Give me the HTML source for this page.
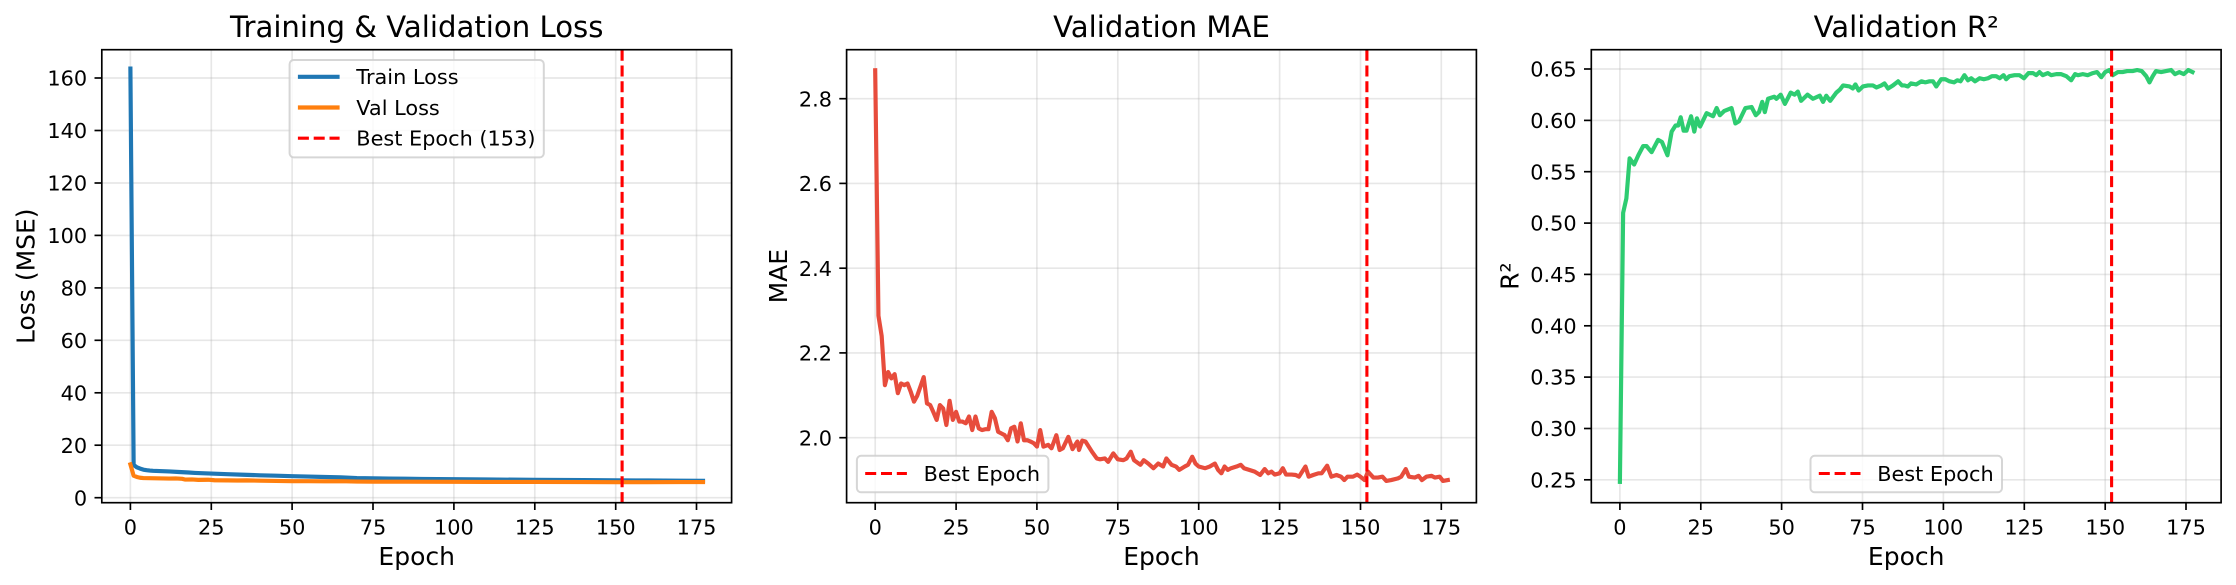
<!DOCTYPE html>
<html>
<head>
<meta charset="utf-8">
<style>
html,body{margin:0;padding:0;background:#fff;}
svg{display:block;}
text{font-family:"DejaVu Sans","Liberation Sans",sans-serif;fill:#000;}
</style>
</head>
<body>
<svg width="2236" height="585" viewBox="0 0 2236 585" xmlns="http://www.w3.org/2000/svg">
<rect x="0" y="0" width="2236" height="585" fill="#fff"/>

<!-- ================= PANEL 1 ================= -->
<g>
  <!-- grid -->
  <g stroke="#b0b0b0" stroke-opacity="0.3" stroke-width="1.67">
    <line x1="130.4" y1="49.7" x2="130.4" y2="502.7"/>
    <line x1="211.3" y1="49.7" x2="211.3" y2="502.7"/>
    <line x1="292.1" y1="49.7" x2="292.1" y2="502.7"/>
    <line x1="373.0" y1="49.7" x2="373.0" y2="502.7"/>
    <line x1="453.9" y1="49.7" x2="453.9" y2="502.7"/>
    <line x1="534.8" y1="49.7" x2="534.8" y2="502.7"/>
    <line x1="615.7" y1="49.7" x2="615.7" y2="502.7"/>
    <line x1="696.5" y1="49.7" x2="696.5" y2="502.7"/>
    <line x1="101.8" y1="497.7" x2="731.6" y2="497.7"/>
    <line x1="101.8" y1="445.2" x2="731.6" y2="445.2"/>
    <line x1="101.8" y1="392.8" x2="731.6" y2="392.8"/>
    <line x1="101.8" y1="340.3" x2="731.6" y2="340.3"/>
    <line x1="101.8" y1="287.9" x2="731.6" y2="287.9"/>
    <line x1="101.8" y1="235.4" x2="731.6" y2="235.4"/>
    <line x1="101.8" y1="183.0" x2="731.6" y2="183.0"/>
    <line x1="101.8" y1="130.5" x2="731.6" y2="130.5"/>
    <line x1="101.8" y1="78.0" x2="731.6" y2="78.0"/>
  </g>
  <!-- data -->
  <polyline transform="translate(130.4,497.7) scale(3.235,-2.623)" vector-effect="non-scaling-stroke" fill="none" stroke="#1f77b4" stroke-width="4.17" stroke-linejoin="round" stroke-linecap="square"
    points="0,163.6 1,12.5 2,11.6 3,11.1 4,10.7 5,10.5 6,10.35 7,10.25 8,10.2 10,10.1 12,10.0 15,9.8 18,9.6 20,9.45 22,9.35 25,9.2 28,9.05 30,8.95 35,8.75 40,8.55 45,8.4 50,8.2 55,8.05 60,7.9 65,7.75 70,7.5 75,7.4 80,7.3 85,7.22 90,7.15 100,7.05 110,6.95 125,6.8 140,6.7 150,6.6 160,6.55 170,6.5 177,6.45"/>
  <polyline transform="translate(130.4,497.7) scale(3.235,-2.623)" vector-effect="non-scaling-stroke" fill="none" stroke="#ff7f0e" stroke-width="4.17" stroke-linejoin="round" stroke-linecap="square"
    points="0,12.7 1,8.4 2,7.9 3,7.6 4,7.5 6,7.45 8,7.4 10,7.35 12,7.3 14,7.35 16,7.2 17,6.9 19,6.95 21,6.8 24,6.85 26,6.65 30,6.6 33,6.55 36,6.6 40,6.5 45,6.4 50,6.3 55,6.3 60,6.25 65,6.3 70,6.15 75,6.1 85,6.1 100,6.05 110,6.0 125,6.0 140,5.95 150,5.9 160,5.9 170,5.95 177,5.95"/>
  <line x1="622.1" y1="49.7" x2="622.1" y2="502.7" stroke="#ff0000" stroke-width="3.1" stroke-dasharray="11 4.8"/>
  <!-- spines -->
  <rect x="101.8" y="49.7" width="629.8" height="453" fill="none" stroke="#000" stroke-width="1.67"/>
  <!-- ticks -->
  <g stroke="#000" stroke-width="1.67">
    <line x1="130.4" y1="502.7" x2="130.4" y2="510"/>
    <line x1="211.3" y1="502.7" x2="211.3" y2="510"/>
    <line x1="292.1" y1="502.7" x2="292.1" y2="510"/>
    <line x1="373.0" y1="502.7" x2="373.0" y2="510"/>
    <line x1="453.9" y1="502.7" x2="453.9" y2="510"/>
    <line x1="534.8" y1="502.7" x2="534.8" y2="510"/>
    <line x1="615.7" y1="502.7" x2="615.7" y2="510"/>
    <line x1="696.5" y1="502.7" x2="696.5" y2="510"/>
    <line x1="94.5" y1="497.7" x2="101.8" y2="497.7"/>
    <line x1="94.5" y1="445.2" x2="101.8" y2="445.2"/>
    <line x1="94.5" y1="392.8" x2="101.8" y2="392.8"/>
    <line x1="94.5" y1="340.3" x2="101.8" y2="340.3"/>
    <line x1="94.5" y1="287.9" x2="101.8" y2="287.9"/>
    <line x1="94.5" y1="235.4" x2="101.8" y2="235.4"/>
    <line x1="94.5" y1="183.0" x2="101.8" y2="183.0"/>
    <line x1="94.5" y1="130.5" x2="101.8" y2="130.5"/>
    <line x1="94.5" y1="78.0" x2="101.8" y2="78.0"/>
  </g>
  <g font-size="20.83" text-anchor="middle">
    <text x="130.4" y="534.7">0</text>
    <text x="211.3" y="534.7">25</text>
    <text x="292.1" y="534.7">50</text>
    <text x="373.0" y="534.7">75</text>
    <text x="453.9" y="534.7">100</text>
    <text x="534.8" y="534.7">125</text>
    <text x="615.7" y="534.7">150</text>
    <text x="696.5" y="534.7">175</text>
  </g>
  <g font-size="20.83" text-anchor="end">
    <text x="87.2" y="505.3">0</text>
    <text x="87.2" y="452.8">20</text>
    <text x="87.2" y="400.4">40</text>
    <text x="87.2" y="347.9">60</text>
    <text x="87.2" y="295.5">80</text>
    <text x="87.2" y="243.0">100</text>
    <text x="87.2" y="190.6">120</text>
    <text x="87.2" y="138.1">140</text>
    <text x="87.2" y="85.6">160</text>
  </g>
  <text x="416.7" y="565" font-size="25" text-anchor="middle">Epoch</text>
  <text transform="translate(34.5,276.2) rotate(-90)" font-size="25" text-anchor="middle">Loss (MSE)</text>
  <text x="416.7" y="37.2" font-size="29.17" text-anchor="middle">Training &amp; Validation Loss</text>
  <!-- legend -->
  <rect x="289.6" y="60" width="254.2" height="97.4" rx="4.2" ry="4.2" fill="#fff" fill-opacity="0.8" stroke="#cccccc" stroke-opacity="0.8" stroke-width="2"/>
  <line x1="297.9" y1="76.8" x2="339.6" y2="76.8" stroke="#1f77b4" stroke-width="4.17"/>
  <line x1="297.9" y1="107.5" x2="339.6" y2="107.5" stroke="#ff7f0e" stroke-width="4.17"/>
  <line x1="297.9" y1="138.2" x2="339.6" y2="138.2" stroke="#ff0000" stroke-width="3.1" stroke-dasharray="11 4.8"/>
  <g font-size="20.83">
    <text x="356.3" y="84.2">Train Loss</text>
    <text x="356.3" y="114.9">Val Loss</text>
    <text x="356.3" y="145.6">Best Epoch (153)</text>
  </g>
</g>

<!-- ================= PANEL 2 ================= -->
<g transform="translate(744.8,0)">
  <g stroke="#b0b0b0" stroke-opacity="0.3" stroke-width="1.67">
    <line x1="130.4" y1="49.7" x2="130.4" y2="502.7"/>
    <line x1="211.3" y1="49.7" x2="211.3" y2="502.7"/>
    <line x1="292.1" y1="49.7" x2="292.1" y2="502.7"/>
    <line x1="373.0" y1="49.7" x2="373.0" y2="502.7"/>
    <line x1="453.9" y1="49.7" x2="453.9" y2="502.7"/>
    <line x1="534.8" y1="49.7" x2="534.8" y2="502.7"/>
    <line x1="615.7" y1="49.7" x2="615.7" y2="502.7"/>
    <line x1="696.5" y1="49.7" x2="696.5" y2="502.7"/>
    <line x1="101.8" y1="437.7" x2="731.6" y2="437.7"/>
    <line x1="101.8" y1="352.9" x2="731.6" y2="352.9"/>
    <line x1="101.8" y1="268.2" x2="731.6" y2="268.2"/>
    <line x1="101.8" y1="183.4" x2="731.6" y2="183.4"/>
    <line x1="101.8" y1="98.7" x2="731.6" y2="98.7"/>
  </g>
  <polyline transform="translate(130.4,1285.3) scale(3.235,-423.8)" vector-effect="non-scaling-stroke" fill="none" stroke="#e74c3c" stroke-width="4.17" stroke-linejoin="round" stroke-linecap="square"
    points="0,2.867 1,2.288 2,2.240 3,2.124 4,2.155 5,2.140 6,2.150 7,2.105 8,2.128 9,2.124 10,2.128 11,2.108 12,2.085 13,2.099 14,2.121 15,2.143 16,2.081 17,2.077 18,2.060 19,2.042 20,2.077 21,2.069 22,2.030 23,2.087 24,2.042 25,2.061 26,2.038 27,2.038 28,2.034 29,2.050 30,2.018 31,2.050 32,2.022 33,2.018 34,2.020 35,2.020 36,2.061 37,2.046 38,2.014 39,2.010 40,2.006 41,1.994 42,2.022 43,2.026 44,1.991 45,2.034 46,1.994 47,1.994 48,1.991 49,1.987 50,1.979 51,2.018 52,1.979 53.5,1.983 54.5,1.975 56,2.006 57,1.971 58,1.975 59.7,2.002 61,1.973 62.5,1.991 63,1.971 64,1.993 65,1.991 67,1.967 68.5,1.951 69.5,1.949 71,1.951 72,1.943 73.6,1.963 75,1.949 76.7,1.947 77.7,1.951 79,1.967 80,1.947 82,1.936 83,1.947 84.4,1.939 86,1.928 87.5,1.939 89,1.932 90,1.951 91.6,1.936 93,1.932 94,1.924 95.7,1.932 96.7,1.936 98,1.955 99,1.939 100,1.932 102,1.928 103.4,1.932 105,1.939 106,1.924 107,1.916 108,1.932 109,1.924 110,1.928 111.7,1.932 113,1.936 114,1.928 115.6,1.924 117.3,1.920 119,1.912 120.4,1.926 121.5,1.916 122.5,1.920 123.5,1.913 125,1.916 126,1.928 127,1.913 128.7,1.913 130,1.912 131,1.908 133,1.932 134,1.908 135.4,1.912 137,1.916 138,1.916 139.7,1.934 141,1.908 142.6,1.912 144,1.908 145,1.900 146,1.908 147.7,1.908 149,1.913 150,1.908 151.3,1.900 152.3,1.920 154,1.906 155.4,1.906 156.8,1.908 158,1.898 159.5,1.900 161.6,1.904 162.6,1.908 164,1.926 165,1.908 166.8,1.906 168,1.910 169,1.900 170.4,1.908 172,1.910 173,1.906 174.5,1.908 175.5,1.898 177,1.900"/>
  <line x1="622.1" y1="49.7" x2="622.1" y2="502.7" stroke="#ff0000" stroke-width="3.1" stroke-dasharray="11 4.8"/>
  <rect x="101.8" y="49.7" width="629.8" height="453" fill="none" stroke="#000" stroke-width="1.67"/>
  <g stroke="#000" stroke-width="1.67">
    <line x1="130.4" y1="502.7" x2="130.4" y2="510"/>
    <line x1="211.3" y1="502.7" x2="211.3" y2="510"/>
    <line x1="292.1" y1="502.7" x2="292.1" y2="510"/>
    <line x1="373.0" y1="502.7" x2="373.0" y2="510"/>
    <line x1="453.9" y1="502.7" x2="453.9" y2="510"/>
    <line x1="534.8" y1="502.7" x2="534.8" y2="510"/>
    <line x1="615.7" y1="502.7" x2="615.7" y2="510"/>
    <line x1="696.5" y1="502.7" x2="696.5" y2="510"/>
    <line x1="94.5" y1="437.7" x2="101.8" y2="437.7"/>
    <line x1="94.5" y1="352.9" x2="101.8" y2="352.9"/>
    <line x1="94.5" y1="268.2" x2="101.8" y2="268.2"/>
    <line x1="94.5" y1="183.4" x2="101.8" y2="183.4"/>
    <line x1="94.5" y1="98.7" x2="101.8" y2="98.7"/>
  </g>
  <g font-size="20.83" text-anchor="middle">
    <text x="130.4" y="534.7">0</text>
    <text x="211.3" y="534.7">25</text>
    <text x="292.1" y="534.7">50</text>
    <text x="373.0" y="534.7">75</text>
    <text x="453.9" y="534.7">100</text>
    <text x="534.8" y="534.7">125</text>
    <text x="615.7" y="534.7">150</text>
    <text x="696.5" y="534.7">175</text>
  </g>
  <g font-size="20.83" text-anchor="end">
    <text x="87.2" y="445.3">2.0</text>
    <text x="87.2" y="360.5">2.2</text>
    <text x="87.2" y="275.8">2.4</text>
    <text x="87.2" y="191.0">2.6</text>
    <text x="87.2" y="106.3">2.8</text>
  </g>
  <text x="416.7" y="565" font-size="25" text-anchor="middle">Epoch</text>
  <text transform="translate(42.2,276.2) rotate(-90)" font-size="25" text-anchor="middle">MAE</text>
  <text x="416.7" y="37.2" font-size="29.17" text-anchor="middle">Validation MAE</text>
  <rect x="112.1" y="455.8" width="191.5" height="36.5" rx="4.2" ry="4.2" fill="#fff" fill-opacity="0.8" stroke="#cccccc" stroke-opacity="0.8" stroke-width="2"/>
  <line x1="120.4" y1="473.5" x2="162.1" y2="473.5" stroke="#ff0000" stroke-width="3.1" stroke-dasharray="11 4.8"/>
  <text x="178.8" y="481" font-size="20.83">Best Epoch</text>
</g>

<!-- ================= PANEL 3 ================= -->
<g transform="translate(1489.5,0)">
  <g stroke="#b0b0b0" stroke-opacity="0.3" stroke-width="1.67">
    <line x1="130.4" y1="49.7" x2="130.4" y2="502.7"/>
    <line x1="211.3" y1="49.7" x2="211.3" y2="502.7"/>
    <line x1="292.1" y1="49.7" x2="292.1" y2="502.7"/>
    <line x1="373.0" y1="49.7" x2="373.0" y2="502.7"/>
    <line x1="453.9" y1="49.7" x2="453.9" y2="502.7"/>
    <line x1="534.8" y1="49.7" x2="534.8" y2="502.7"/>
    <line x1="615.7" y1="49.7" x2="615.7" y2="502.7"/>
    <line x1="696.5" y1="49.7" x2="696.5" y2="502.7"/>
    <line x1="101.8" y1="479.8" x2="731.6" y2="479.8"/>
    <line x1="101.8" y1="428.5" x2="731.6" y2="428.5"/>
    <line x1="101.8" y1="377.1" x2="731.6" y2="377.1"/>
    <line x1="101.8" y1="325.8" x2="731.6" y2="325.8"/>
    <line x1="101.8" y1="274.4" x2="731.6" y2="274.4"/>
    <line x1="101.8" y1="223.1" x2="731.6" y2="223.1"/>
    <line x1="101.8" y1="171.7" x2="731.6" y2="171.7"/>
    <line x1="101.8" y1="120.4" x2="731.6" y2="120.4"/>
    <line x1="101.8" y1="69.0" x2="731.6" y2="69.0"/>
  </g>
  <polyline transform="translate(130.4,736.55) scale(3.235,-1027)" vector-effect="non-scaling-stroke" fill="none" stroke="#2ecc71" stroke-width="4.17" stroke-linejoin="round" stroke-linecap="square"
    points="0,0.248 1,0.510 2,0.524 3,0.563 4.4,0.557 5.7,0.566 7.2,0.575 8.2,0.575 9.8,0.569 11.8,0.581 13,0.579 14.7,0.566 16,0.589 17.2,0.595 18,0.595 18.8,0.603 19.7,0.590 20.6,0.590 22,0.604 23,0.589 23.8,0.602 24.8,0.594 26.8,0.607 28.8,0.604 29.9,0.612 30.9,0.605 32.2,0.609 34.5,0.612 35.7,0.597 36.8,0.599 38.8,0.612 40.7,0.613 42,0.605 43,0.608 44,0.618 44.8,0.608 45.8,0.621 47.7,0.623 48.4,0.621 49.7,0.625 51,0.616 52.8,0.627 54,0.625 55,0.628 56,0.619 58,0.625 59.7,0.621 61.8,0.624 62.8,0.618 63.8,0.624 65,0.619 66.9,0.627 68,0.630 69,0.634 71,0.633 72,0.631 72.8,0.635 73.8,0.629 75.1,0.633 76.7,0.634 78.2,0.634 79.3,0.632 80.8,0.634 81.8,0.636 82.9,0.631 84.4,0.634 86,0.638 87.2,0.634 88,0.634 89,0.633 90,0.636 91.6,0.635 93.2,0.638 94.4,0.637 95.7,0.638 96.8,0.638 97.8,0.633 99.3,0.640 100.6,0.640 101.9,0.638 103.3,0.637 104.3,0.639 105.3,0.638 106.5,0.644 107.6,0.639 108.6,0.641 109.8,0.638 111.2,0.641 112.5,0.640 113.8,0.641 115,0.643 116.3,0.643 117.4,0.641 118.6,0.644 119.4,0.640 120.4,0.643 122,0.644 123.5,0.644 124.9,0.641 126.3,0.646 127.7,0.646 128.7,0.644 129.7,0.647 130.7,0.644 132.3,0.646 133.3,0.644 134.9,0.645 136.4,0.645 138,0.643 139.5,0.639 140.7,0.645 141.6,0.644 143.1,0.645 144.6,0.644 146.2,0.646 147.5,0.647 148.8,0.642 150,0.647 151.3,0.649 152.4,0.644 153.9,0.647 155.4,0.647 156.8,0.648 158.5,0.648 159.9,0.649 161.3,0.648 162.7,0.643 163.7,0.637 164.7,0.643 165.7,0.648 167.3,0.647 168.8,0.648 170.4,0.649 171.6,0.645 172.9,0.647 174.3,0.645 175.7,0.649 177,0.647"/>
  <line x1="622.1" y1="49.7" x2="622.1" y2="502.7" stroke="#ff0000" stroke-width="3.1" stroke-dasharray="11 4.8"/>
  <rect x="101.8" y="49.7" width="629.8" height="453" fill="none" stroke="#000" stroke-width="1.67"/>
  <g stroke="#000" stroke-width="1.67">
    <line x1="130.4" y1="502.7" x2="130.4" y2="510"/>
    <line x1="211.3" y1="502.7" x2="211.3" y2="510"/>
    <line x1="292.1" y1="502.7" x2="292.1" y2="510"/>
    <line x1="373.0" y1="502.7" x2="373.0" y2="510"/>
    <line x1="453.9" y1="502.7" x2="453.9" y2="510"/>
    <line x1="534.8" y1="502.7" x2="534.8" y2="510"/>
    <line x1="615.7" y1="502.7" x2="615.7" y2="510"/>
    <line x1="696.5" y1="502.7" x2="696.5" y2="510"/>
    <line x1="94.5" y1="479.8" x2="101.8" y2="479.8"/>
    <line x1="94.5" y1="428.5" x2="101.8" y2="428.5"/>
    <line x1="94.5" y1="377.1" x2="101.8" y2="377.1"/>
    <line x1="94.5" y1="325.8" x2="101.8" y2="325.8"/>
    <line x1="94.5" y1="274.4" x2="101.8" y2="274.4"/>
    <line x1="94.5" y1="223.1" x2="101.8" y2="223.1"/>
    <line x1="94.5" y1="171.7" x2="101.8" y2="171.7"/>
    <line x1="94.5" y1="120.4" x2="101.8" y2="120.4"/>
    <line x1="94.5" y1="69.0" x2="101.8" y2="69.0"/>
  </g>
  <g font-size="20.83" text-anchor="middle">
    <text x="130.4" y="534.7">0</text>
    <text x="211.3" y="534.7">25</text>
    <text x="292.1" y="534.7">50</text>
    <text x="373.0" y="534.7">75</text>
    <text x="453.9" y="534.7">100</text>
    <text x="534.8" y="534.7">125</text>
    <text x="615.7" y="534.7">150</text>
    <text x="696.5" y="534.7">175</text>
  </g>
  <g font-size="20.83" text-anchor="end">
    <text x="87.2" y="487.4">0.25</text>
    <text x="87.2" y="436.1">0.30</text>
    <text x="87.2" y="384.7">0.35</text>
    <text x="87.2" y="333.4">0.40</text>
    <text x="87.2" y="282.0">0.45</text>
    <text x="87.2" y="230.7">0.50</text>
    <text x="87.2" y="179.3">0.55</text>
    <text x="87.2" y="128.0">0.60</text>
    <text x="87.2" y="76.6">0.65</text>
  </g>
  <text x="416.7" y="565" font-size="25" text-anchor="middle">Epoch</text>
  <text transform="translate(29,276.2) rotate(-90)" font-size="25" text-anchor="middle">R²</text>
  <text x="416.7" y="37.2" font-size="29.17" text-anchor="middle">Validation R²</text>
  <rect x="321" y="455.8" width="191.5" height="36.5" rx="4.2" ry="4.2" fill="#fff" fill-opacity="0.8" stroke="#cccccc" stroke-opacity="0.8" stroke-width="2"/>
  <line x1="329.3" y1="473.5" x2="371" y2="473.5" stroke="#ff0000" stroke-width="3.1" stroke-dasharray="11 4.8"/>
  <text x="387.7" y="481" font-size="20.83">Best Epoch</text>
</g>
</svg>
</body>
</html>
